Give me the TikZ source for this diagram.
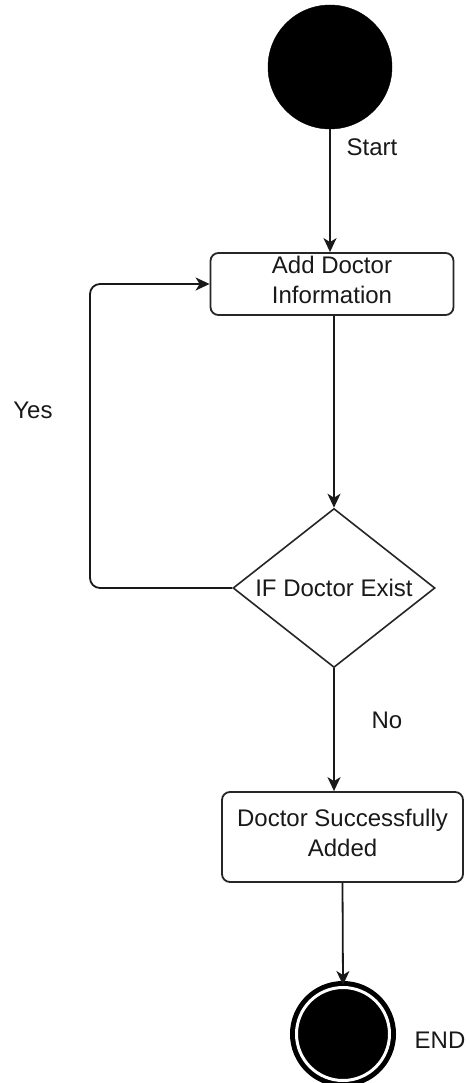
\documentclass[tikz,border=0pt]{standalone}
\usepackage{fontspec}
\setmainfont{Liberation Sans}
\usetikzlibrary{shapes.geometric,arrows.meta}
\begin{document}
\begin{tikzpicture}[x=1pt,y=-1pt,
  every node/.style={font=\fontsize{24}{30}\selectfont, text=black!90},
  line/.style={draw=black!90, line width=1.8pt},
  arr/.style={line, -{Stealth[length=14pt,width=13pt,inset=4pt]}},
  act/.style={draw=black!85, line width=1.8pt, rounded corners=8pt, align=center, inner sep=0pt, text depth=8pt},
  lbl/.style={inner sep=0pt},
]
\useasboundingbox[fill=white] (0,0) rectangle (470,1083);
% nodes
\node[circle, fill=black, draw=black, minimum size=124pt, inner sep=0pt] (start) at (330,67) {};
\node[lbl] (startlbl) at (372,147) {Start};
\node[act, minimum width=243pt, minimum height=62pt] (add) at (332,284) {Add Doctor\\Information};
\node[diamond, draw=black!85, line width=1.6pt, minimum width=202pt, minimum height=159pt, inner sep=0pt] (dia) at (334,588) {};
\node[lbl] (diatext) at (dia.center) {IF Doctor Exist};
\node[act, minimum width=241pt, minimum height=90pt] (done) at (342.5,837) {Doctor Successfully\\Added};
\node[circle, fill=black, draw=black, line width=5pt, double=white, double distance=3pt, minimum size=93pt, inner sep=0pt] (end) at (343,1034) {};
\node[lbl] (yes) at (33,410) {Yes};
\node[lbl] (no) at (387,720) {No};
\node[lbl] (endlbl) at (440,1040) {END};
\coordinate (loopb) at (90,588);
\coordinate (loopt) at (90,284);
% connectors
\draw[arr] (start.south) -- (start.south |- add.north);
\draw[arr] (dia.north |- add.south) -- (dia.north);
\draw[arr, rounded corners=10pt] (dia.west) -- (loopb) -- (loopt) -- (add.west);
\draw[arr] (dia.south) -- (dia.south |- done.north);
\draw[arr] (done.south) -- (end.north);
\end{tikzpicture}
\end{document}
